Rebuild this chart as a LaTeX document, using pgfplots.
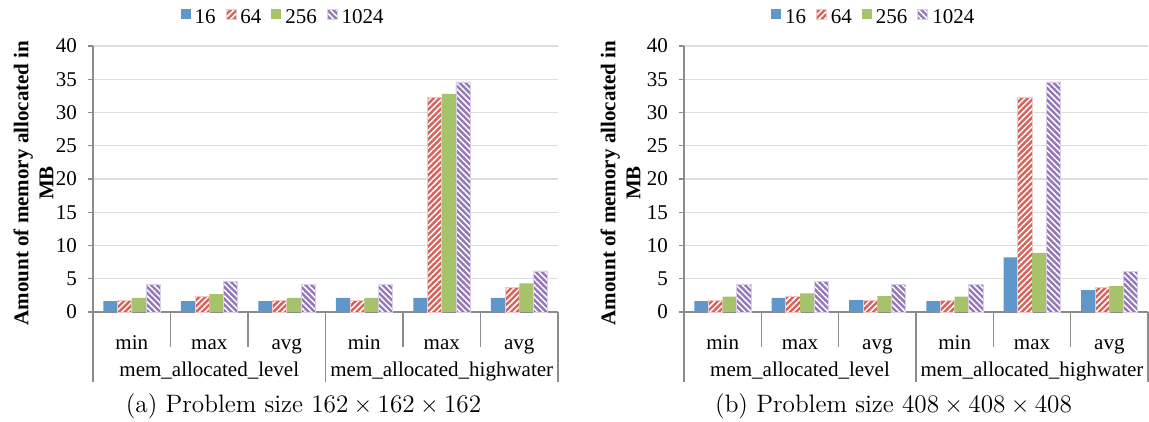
\documentclass[border=0pt]{standalone}
\usepackage{fontspec}
\setmainfont{Liberation Serif}
\newfontfamily\lmfont{Latin Modern Roman}
\usepackage{pgfplots}
\pgfplotsset{compat=1.18}
\usetikzlibrary{patterns.meta}

\definecolor{c16}{HTML}{5F97CB}
\definecolor{c64}{HTML}{D5645C}
\definecolor{c256}{HTML}{A6C36B}
\definecolor{c1024}{HTML}{9578B8}
\definecolor{axisgray}{HTML}{8C8C8C}
\definecolor{gridgray}{HTML}{DDDDDD}
\newcommand\fs{\fontsize{10.5}{12.6}\selectfont}

\pgfplotsset{
  sqlegend/.style={legend image code/.code={\fill[##1] (0pt,-0.5pt) rectangle (5pt,4.5pt);}},
  s16/.style={fill=c16, draw=none, bar shift=-0.2745, sqlegend},
  s64/.style={fill=c64, draw=c64!35!white, line width=0.4pt, bar shift=-0.0915, sqlegend,
    postaction={pattern={Lines[angle=45,distance=2.1pt,line width=0.75pt]}, pattern color=white}},
  s256/.style={fill=c256, draw=none, bar shift=0.0915, sqlegend},
  s1024/.style={fill=c1024, draw=c1024!35!white, line width=0.4pt, bar shift=0.2745, sqlegend,
    postaction={pattern={Lines[angle=-45,distance=2.1pt,line width=0.75pt]}, pattern color=white}},
  common/.style={
    anchor=south west, scale only axis, height=133pt,
    xmin=0.5, xmax=6.5, ymin=0, ymax=40,
    ytick={0,5,...,40},
    xtick={1,...,6}, xticklabels={min,max,avg,min,max,avg},
    axis lines=left, axis line style={draw=axisgray, line width=0.6pt, -},
    ymajorgrids, grid style={draw=gridgray, line width=0.6pt},
    tick align=outside, ytick style={draw=axisgray, line width=0.6pt},
    major tick length=2.5pt,
    xtick style={draw=none},
    /pgf/number format/assume math mode=true,
    tick label style={font=\fs},
    yticklabel style={xshift=-2pt},
    xticklabel style={anchor=base, yshift=-16.2pt},
    clip=false,
    ybar, bar width=0.183,
    legend columns=4,
    legend style={at={(0.411,1.105)}, anchor=center, draw=none, fill=none, font=\fs,
      inner sep=0pt,
      /tikz/every odd column/.append style={column sep=0pt},
      /tikz/every even column/.append style={column sep=3pt}},
  },
  seps/.style={},
}
\newcommand\seps{%
  \draw[axisgray, line width=0.6pt] (axis cs:0.5,0) -- ([yshift=-35pt]axis cs:0.5,0);
  \draw[axisgray, line width=0.6pt] (axis cs:1.5,0) -- ([yshift=-17.5pt]axis cs:1.5,0);
  \draw[axisgray, line width=0.6pt] (axis cs:2.5,0) -- ([yshift=-17.5pt]axis cs:2.5,0);
  \draw[axisgray, line width=0.6pt] (axis cs:3.5,0) -- ([yshift=-35pt]axis cs:3.5,0);
  \draw[axisgray, line width=0.6pt] (axis cs:4.5,0) -- ([yshift=-17.5pt]axis cs:4.5,0);
  \draw[axisgray, line width=0.6pt] (axis cs:5.5,0) -- ([yshift=-17.5pt]axis cs:5.5,0);
  \draw[axisgray, line width=0.6pt] (axis cs:6.5,0) -- ([yshift=-35pt]axis cs:6.5,0);
  \node[anchor=base, font=\fs, yshift=-32.5pt] at (axis cs:2,0) {mem\_allocated\_level};
  \node[anchor=base, font=\fs, yshift=-32.5pt] at (axis cs:5,0) {mem\_allocated\_highwater};
}

\begin{document}
\begin{tikzpicture}
\useasboundingbox (0,0) rectangle (574.5pt,211pt);
% ---------------- left panel
\begin{axis}[common, at={(46.5pt,55pt)}, width=232.5pt]
\addplot[s16] coordinates {(1,1.63) (2,1.63) (3,1.63) (4,2.14) (5,2.14) (6,2.14)};
\addplot[s64] coordinates {(1,1.79) (2,2.3) (3,1.79) (4,1.79) (5,32.3) (6,3.72)};
\addplot[s256] coordinates {(1,2.14) (2,2.7) (3,2.14) (4,2.14) (5,32.8) (6,4.29)};
\addplot[s1024] coordinates {(1,4.13) (2,4.6) (3,4.13) (4,4.13) (5,34.6) (6,6.17)};
\legend{16,64,256,1024}
\seps
\end{axis}
% ---------------- right panel
\begin{axis}[common, at={(342pt,55pt)}, width=232pt]
\addplot[s16] coordinates {(1,1.63) (2,2.14) (3,1.79) (4,1.63) (5,8.2) (6,3.3)};
\addplot[s64] coordinates {(1,1.79) (2,2.3) (3,1.79) (4,1.79) (5,32.3) (6,3.72)};
\addplot[s256] coordinates {(1,2.3) (2,2.8) (3,2.4) (4,2.3) (5,8.9) (6,3.88)};
\addplot[s1024] coordinates {(1,4.13) (2,4.6) (3,4.13) (4,4.13) (5,34.6) (6,6.1)};
\legend{16,64,256,1024}
\seps
\end{axis}
% ---------------- y labels
\node[rotate=90, align=center, font=\bfseries\fs] at (16.75pt,119.5pt) {Amount of memory allocated in\\MB};
\node[rotate=90, align=center, font=\bfseries\fs] at (310.25pt,119.5pt) {Amount of memory allocated in\\MB};
% ---------------- captions
\node[anchor=base, font=\lmfont\fontsize{12.6}{14}\selectfont] at (151.75pt,4.5pt) {(a) Problem size 162${}\times{}$162${}\times{}$162};
\node[anchor=base, font=\lmfont\fontsize{12.6}{14}\selectfont] at (446.75pt,4.5pt) {(b) Problem size 408${}\times{}$408${}\times{}$408};
\end{tikzpicture}
\end{document}
